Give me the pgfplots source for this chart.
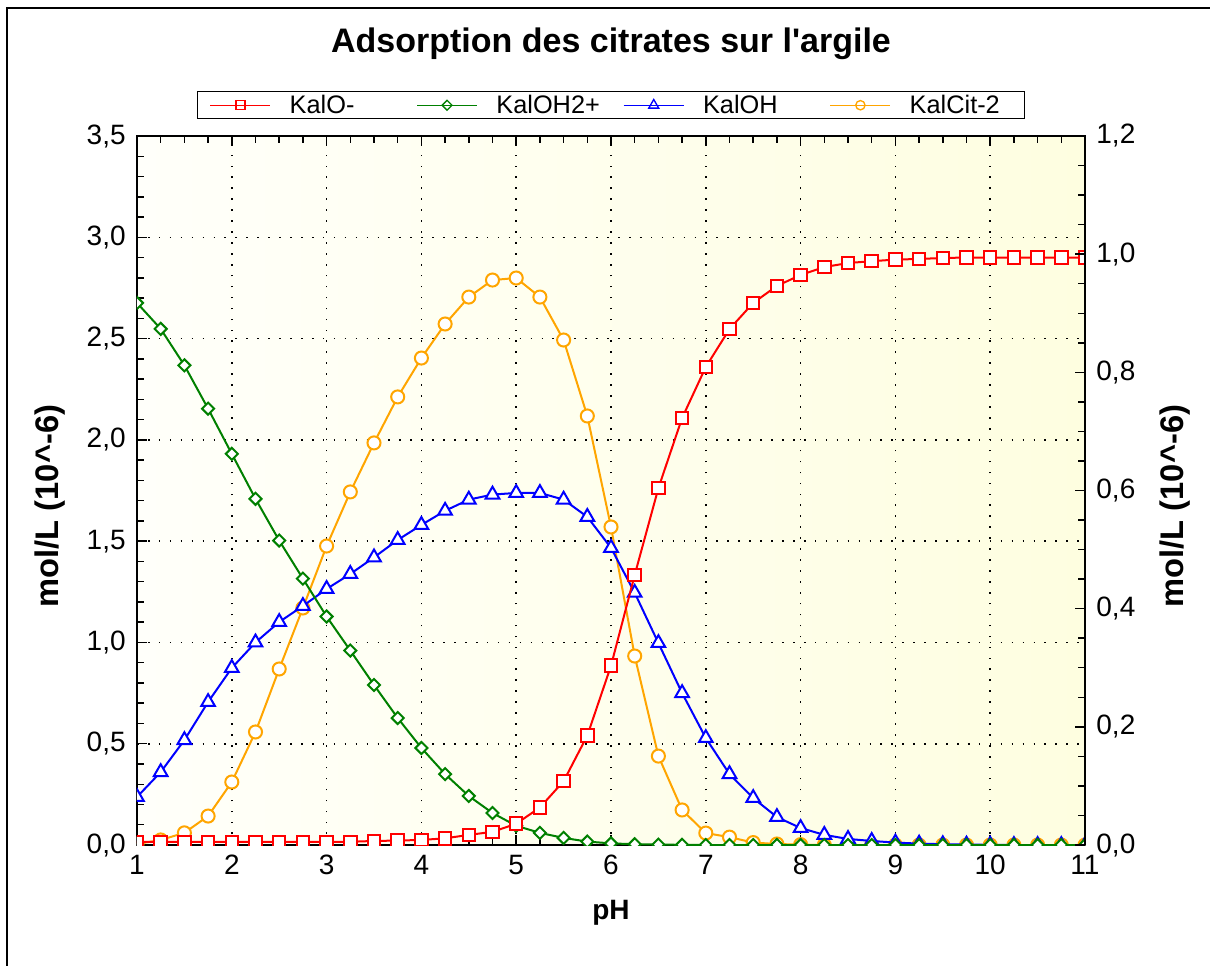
\documentclass[border=0pt]{standalone}
\usepackage{pgfplots}
\usepackage{pgfplotstable}
\pgfplotsset{compat=1.18}
\usepackage{fontspec}
\setmainfont{Liberation Sans}[Ligatures=TeXOff]
\definecolor{cred}{RGB}{255,0,0}
\definecolor{cgreen}{RGB}{0,128,0}
\definecolor{cblue}{RGB}{0,0,255}
\definecolor{corange}{RGB}{255,165,0}
\definecolor{bgleft}{RGB}{255,255,250}
\definecolor{bgright}{RGB}{254,254,224}

\pgfplotstableread{
x O OH2 OH Cit
1 0.015 2.676 0.237 0.005
1.25 0.015 2.548 0.360 0.025
1.5 0.015 2.368 0.518 0.060
1.75 0.015 2.154 0.706 0.143
2 0.015 1.931 0.874 0.311
2.25 0.015 1.709 1.000 0.558
2.5 0.015 1.503 1.101 0.869
2.75 0.015 1.315 1.180 1.170
3 0.015 1.128 1.264 1.476
3.25 0.016 0.960 1.338 1.743
3.5 0.020 0.790 1.420 1.985
3.75 0.022 0.627 1.506 2.212
4 0.025 0.479 1.580 2.404
4.25 0.033 0.350 1.650 2.572
4.5 0.050 0.242 1.705 2.705
4.75 0.065 0.158 1.730 2.789
5 0.105 0.095 1.738 2.799
5.25 0.185 0.060 1.738 2.705
5.5 0.315 0.035 1.705 2.493
5.75 0.540 0.017 1.620 2.118
6 0.885 0.008 1.467 1.570
6.25 1.333 0.004 1.245 0.933
6.5 1.762 0.002 0.997 0.439
6.75 2.108 0.001 0.750 0.173
7 2.360 0.000 0.528 0.059
7.25 2.547 0 0.350 0.039
7.5 2.676 0 0.232 0.012
7.75 2.760 0 0.138 0.005
8 2.814 0 0.084 0.002
8.25 2.853 0 0.050 0
8.5 2.873 0 0.030 0
8.75 2.882 0 0.020 0
9 2.890 0 0.012 0
9.25 2.893 0 0.007 0
9.5 2.898 0 0.004 0
9.75 2.900 0 0.002 0
10 2.900 0 0.001 0
10.25 2.900 0 0 0
10.5 2.900 0 0 0
10.75 2.900 0 0 0
11 2.900 0 0 0
}\datatable

\pgfplotsset{
  common/.style={
    at={(102.75pt,-633.75pt)}, anchor=south west,
    width=711pt, height=531.75pt, scale only axis,
    xmin=1, xmax=11,
    tick align=inside,
    major tick length=7.5pt, minor tick length=5pt,
    every tick/.style={black, line width=1.1pt},
    axis line style={line width=1.6pt},
    ticklabel style={font=\fontsize{21}{21}\selectfont},
    label style={font=\bfseries\fontsize{24.5}{24.5}\selectfont},
  },
}

\begin{document}
\begin{tikzpicture}[x=0.75pt,y=0.75pt]
\path[use as bounding box] (0,0) rectangle (1210,-965);
\draw[line width=1.4pt] (7,-990) -- (7,-8) -- (1240,-8);

\begin{axis}[common,
  ymin=0, ymax=3.5,
  xtick={1,2,3,4,5,6,7,8,9,10,11},
  ytick={0,0.5,1,1.5,2,2.5,3,3.5},
  minor x tick num=3, minor y tick num=4,
  ytick pos=left,
  grid=major,
  grid style={black, line width=1.2pt, dash pattern=on 1.2pt off 7pt},
  clip marker paths=true,
  axis background/.style={left color=bgleft, right color=bgright},
  x tick label style={/pgf/number format/assume math mode=true, yshift=-4pt},
  y tick label style={/pgf/number format/.cd, fixed, fixed zerofill, precision=1, use comma, assume math mode=true, /tikz/.cd, xshift=-5pt},
  xlabel={pH},
  xlabel style={at={(axis description cs:0.5,-0.1044)}, anchor=base, font=\bfseries\fontsize{21}{21}\selectfont},
  ylabel={mol/L (10\textasciicircum-6)},
  ylabel style={at={(axis description cs:-0.0918,0.478)}, anchor=center, rotate=0},
  title={Adsorption des citrates sur l'argile},
  title style={at={(axis description cs:0.5,1.107)}, anchor=base, font=\bfseries\fontsize{25.5}{25.5}\selectfont},
  legend columns=4,
  legend image code/.code={\draw[mark repeat=2,mark phase=2,#1] plot coordinates {(0pt,0pt) (22.5pt,0pt) (45pt,0pt)};},
  legend style={at={(0.0633,1.0635)}, anchor=north west, draw=black, line width=1.1pt,
    font=\fontsize{19}{19}\selectfont, inner xsep=9pt, inner ysep=2.5pt,
    nodes={inner sep=0pt},
    /tikz/every odd column/.append style={column sep=14pt},
    /tikz/every even column/.append style={column sep=18pt}},
]
\addlegendimage{cred, line width=1pt, mark=square, mark size=3.4pt, mark options={solid, fill=white}}
\addlegendimage{cgreen, line width=1pt, mark=square, mark size=2.6pt, mark options={solid, fill=white, rotate=45}}
\addlegendimage{cblue, line width=1pt, mark=triangle, mark size=4.3pt, mark options={solid, fill=white}}
\addlegendimage{corange, line width=1pt, mark=o, mark size=3.5pt, mark options={solid, fill=white}}
\legend{\makebox[77pt][l]{KalO-},\makebox[77pt][l]{KalOH2+},\makebox[77pt][l]{KalOH},\makebox[77pt][l]{KalCit-2}}

\addplot[forget plot, corange, line width=1.5pt, mark=*, mark size=4.9pt, mark options={fill=white, draw=corange}] table[x=x,y=Cit]{\datatable};
\addplot[forget plot, cblue, line width=1.5pt, mark=triangle*, mark size=5.9pt, mark options={fill=white, draw=cblue}] table[x=x,y=OH]{\datatable};
\addplot[forget plot, cgreen, line width=1.5pt, mark=square*, mark size=3.2pt, mark options={fill=white, draw=cgreen, rotate=45}] table[x=x,y=OH2]{\datatable};
\addplot[forget plot, cred, line width=1.5pt, mark=square*, mark size=4.7pt, mark options={fill=white, draw=cred}] table[x=x,y=O]{\datatable};
\end{axis}

\begin{axis}[common,
  ymin=0, ymax=1.2,
  hide x axis,
  axis y line*=right,
  tick align=inside,
  ytick={0,0.2,0.4,0.6,0.8,1,1.2},
  minor y tick num=3,
  y tick label style={/pgf/number format/.cd, fixed, fixed zerofill, precision=1, use comma, assume math mode=true, /tikz/.cd, xshift=5pt},
  ylabel={mol/L (10\textasciicircum-6)},
  ylabel style={at={(axis description cs:1.095,0.478)}, anchor=center, rotate=0},
]
\end{axis}
\end{tikzpicture}
\end{document}
